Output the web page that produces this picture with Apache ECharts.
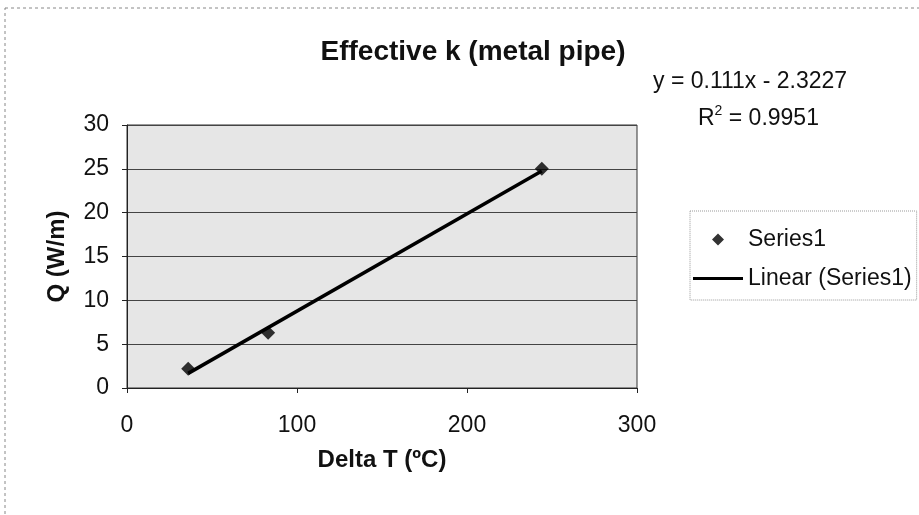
<!DOCTYPE html>
<html>
<head>
<meta charset="utf-8">
<script src="https://cdn.jsdelivr.net/npm/echarts@6/dist/echarts.min.js"></script>
<style>
  html, body { margin: 0; padding: 0; background: #ffffff; }
  #chart { width: 919px; height: 515px; }
</style>
</head>
<body>
<div id="chart"></div>
<script>
// ---- data ----
var chartTitle = 'Effective k (metal pipe)';
var xAxisTitle = 'Delta T (ºC)';
var yAxisTitle = 'Q (W/m)';
var seriesName = 'Series1';
var trendName = 'Linear (Series1)';
var deltaT = [36, 83, 244];          // x values (°C)
var heatQ = [2.2, 6.3, 25.0];        // y values (W/m)
var trendX = [36, 244];              // trendline end points
var trendY = [1.67, 24.76];
var equationText = 'y = 0.111x - 2.3227';
var r2Label = 'R';
var r2Sup = '2';
var r2Value = ' = 0.9951';
var xTicks = [0, 100, 200, 300];
var yTicks = [0, 5, 10, 15, 20, 25, 30];

var FONT = "'Liberation Sans', Arial, sans-serif";

var scatterData = deltaT.map(function (x, i) { return [x, heatQ[i]]; });
var trendData = trendX.map(function (x, i) { return [x, trendY[i]]; });

var chart = echarts.init(document.getElementById('chart'), null, { renderer: 'canvas' });
chart.setOption({
  backgroundColor: '#ffffff',
  animation: false,
  textStyle: { fontFamily: FONT },
  title: {
    text: chartTitle,
    left: 468,
    top: 33,
    textAlign: 'center',
    textStyle: { fontFamily: FONT, fontSize: 28, fontWeight: 'bold', color: '#111' }
  },
  grid: {
    left: 127, right: 282, top: 125, bottom: 127,
    show: true,
    backgroundColor: '#e6e6e6',
    borderColor: '#333',
    borderWidth: 1
  },
  legend: {
    orient: 'vertical',
    left: 690,
    top: 211,
    padding: [17, 5, 10, 3],
    borderColor: '#999',
    borderWidth: 1,
    borderType: 'dotted',
    itemWidth: 50,
    itemHeight: 12,
    itemGap: 16,
    symbolKeepAspect: true,
    textStyle: { fontFamily: FONT, fontSize: 23, color: '#111' },
    data: [
      { name: seriesName, icon: 'path://M0,0L0.001,0L0,0.001ZM50,12L49.999,12L50,11.999ZM19,6L25,0L31,6L25,12Z' },
      { name: trendName, icon: 'path://M0,0H50V3H0Z' }
    ]
  },
  xAxis: {
    type: 'value',
    min: xTicks[0],
    max: xTicks[xTicks.length - 1],
    interval: xTicks[1] - xTicks[0],
    name: xAxisTitle,
    nameLocation: 'middle',
    nameGap: 60,
    nameTextStyle: { fontFamily: FONT, fontSize: 24, fontWeight: 'bold', color: '#111' },
    axisLine: { show: true, lineStyle: { color: '#222', width: 1 } },
    axisTick: { show: true, length: 5, lineStyle: { color: '#222' } },
    axisLabel: { margin: 26, fontFamily: FONT, fontSize: 23, color: '#111' },
    splitLine: { show: false }
  },
  yAxis: {
    type: 'value',
    min: yTicks[0],
    max: yTicks[yTicks.length - 1],
    interval: yTicks[1] - yTicks[0],
    name: yAxisTitle,
    nameLocation: 'middle',
    nameRotate: 90,
    nameGap: 58,
    nameTextStyle: { fontFamily: FONT, fontSize: 24, fontWeight: 'bold', color: '#111' },
    axisLine: { show: true, lineStyle: { color: '#222', width: 1 } },
    axisTick: { show: true, length: 5, lineStyle: { color: '#222' } },
    axisLabel: { margin: 18, fontFamily: FONT, fontSize: 23, color: '#111' },
    splitLine: { show: true, lineStyle: { color: '#444', width: 1 } }
  },
  series: [
    {
      name: seriesName,
      type: 'scatter',
      data: scatterData,
      symbol: 'diamond',
      symbolSize: 14,
      itemStyle: { color: '#000' },
      z: 3
    },
    {
      name: trendName,
      type: 'line',
      data: trendData,
      symbol: 'none',
      lineStyle: { color: '#000', width: 3.5 },
      itemStyle: { color: '#000' },
      z: 2
    }
  ],
  graphic: [
    {
      type: 'rect',
      shape: { x: 5, y: 8, width: 940, height: 540 },
      style: { fill: 'none', stroke: '#888', lineWidth: 1, lineDash: [3, 3] },
      silent: true
    },
    {
      type: 'text',
      left: 653,
      top: 70,
      style: { text: equationText, font: '23px ' + FONT, fill: '#111' }
    },
    {
      type: 'text',
      left: 698,
      top: 104,
      style: {
        text: '{n|' + r2Label + '}{s|' + r2Sup + '}{n|' + r2Value + '}',
        fill: '#111',
        rich: {
          n: { fontFamily: FONT, fontSize: 23, color: '#111', verticalAlign: 'bottom', lineHeight: 26 },
          s: { fontFamily: FONT, fontSize: 14, color: '#111', verticalAlign: 'top', lineHeight: 26, padding: [0, 0, 10, 0] }
        }
      }
    }
  ]
});
</script>
</body>
</html>
